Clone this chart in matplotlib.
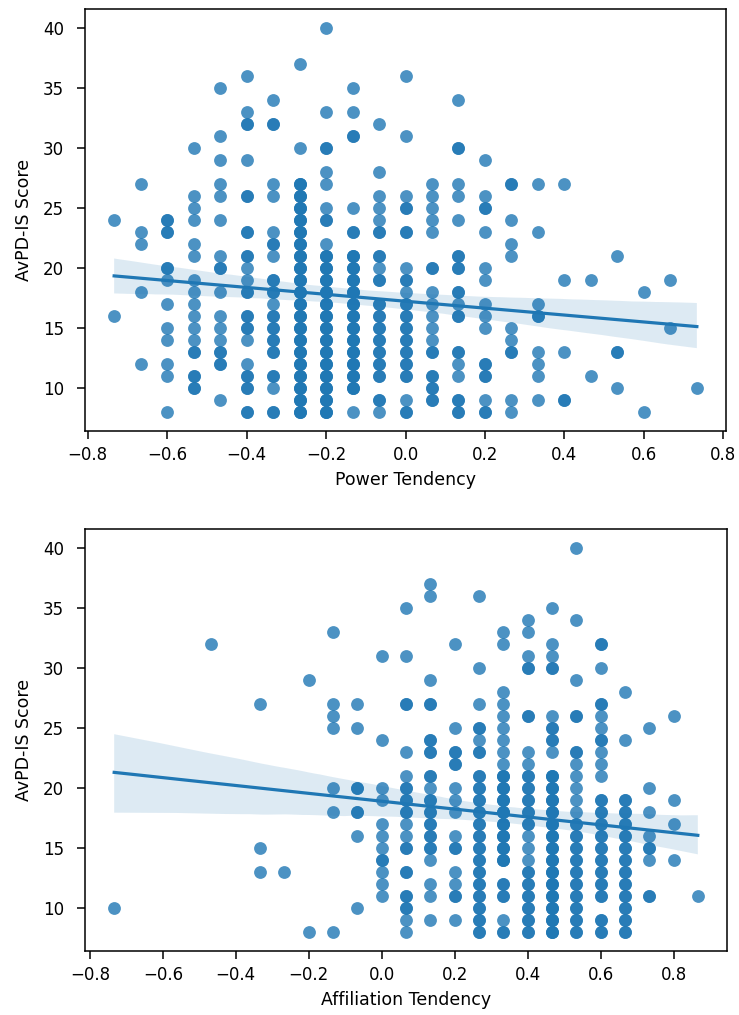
import numpy as np
import matplotlib
matplotlib.use("Agg")
import matplotlib.pyplot as plt
import seaborn as sns

# Power tendency: column levels (x = level/15) and AvPD-IS scores in each column
power_levels = [-11, -10, -9, -8, -7, -6, -5, -4, -3, -2, -1, 0, 1, 2, 3, 4, 5, 6, 7, 8, 9, 10, 11]
power_scores = [
    [24, 16],
    [27, 23, 22, 18, 12],
    [24, 24, 23, 23, 20, 20, 19, 17, 15, 14, 12, 11, 8],
    [30, 26, 25, 24, 22, 21, 19, 18, 17, 16, 15, 14, 13, 13, 11, 11, 10, 10],
    [35, 31, 29, 27, 26, 24, 21, 20, 20, 18, 16, 15, 14, 13, 13, 12, 12, 9],
    [36, 33, 32, 32, 29, 26, 26, 23, 23, 21, 21, 20, 19, 18, 18, 16, 16, 15, 15, 14, 12, 11, 11, 10, 10, 8, 8],
    [34, 32, 32, 27, 26, 23, 22, 22, 21, 19, 19, 18, 18, 17, 16, 16, 15, 15, 14, 14, 13, 13, 11, 11, 10, 8, 8],
    [37, 30, 27, 27, 27, 26, 26, 26, 25, 25, 25, 24, 24, 24, 23, 23, 23, 22, 22, 22, 21, 21, 21, 20, 20, 20,
     19, 19, 19, 18, 18, 18, 17, 17, 17, 16, 16, 16, 15, 15, 15, 14, 14, 14, 13, 13, 13, 12, 12, 12,
     11, 11, 11, 10, 10, 10, 9, 9, 9, 8, 8, 8],
    [40, 33, 30, 30, 28, 27, 25, 24, 24, 22, 21, 21, 21, 20, 20, 20, 19, 19, 19, 18, 18, 18, 17, 17, 17,
     16, 16, 16, 15, 15, 15, 14, 14, 14, 13, 13, 13, 12, 12, 12, 11, 11, 11, 10, 10, 10, 9, 9, 9, 8, 8, 8],
    [35, 33, 31, 31, 25, 23, 23, 21, 21, 21, 20, 20, 20, 19, 19, 19, 18, 18, 18, 17, 17, 17, 16, 16, 16,
     15, 15, 15, 14, 14, 14, 13, 13, 13, 12, 12, 12, 11, 11, 11, 10, 10, 10, 8],
    [32, 28, 26, 25, 24, 23, 23, 21, 21, 20, 19, 19, 17, 17, 16, 16, 15, 15, 14, 14, 13, 13, 12, 12, 11, 11, 9, 9, 8],
    [36, 31, 26, 25, 25, 23, 23, 20, 19, 19, 18, 17, 17, 16, 16, 15, 15, 14, 14, 13, 13, 12, 12, 11, 11, 9, 8, 8],
    [27, 26, 25, 24, 23, 20, 20, 18, 17, 16, 15, 14, 13, 13, 11, 11, 10, 10, 9, 9],
    [34, 30, 30, 27, 26, 24, 21, 21, 20, 20, 18, 18, 17, 16, 16, 13, 13, 12, 11, 9, 9, 8, 8],
    [29, 26, 25, 25, 23, 20, 19, 17, 16, 15, 12, 12, 11, 11, 9, 8, 8],
    [27, 27, 24, 22, 21, 15, 14, 13, 13, 9, 8],
    [27, 23, 17, 16, 16, 13, 12, 11, 9],
    [27, 19, 13, 9, 9],
    [19, 11],
    [21, 13, 13, 10],
    [18, 8],
    [19, 15],
    [10],
]

# Affiliation tendency: column levels (x = level/15) and AvPD-IS scores in each column
affil_levels = [-11, -7, -5, -4, -3, -2, -1, 0, 1, 2, 3, 4, 5, 6, 7, 8, 9, 10, 11, 12, 13]
affil_scores = [
    [10],
    [32],
    [27, 15, 13],
    [13],
    [29, 8],
    [33, 27, 26, 25, 20, 18, 8],
    [27, 25, 20, 20, 18, 18, 16, 10],
    [31, 24, 20, 19, 17, 16, 15, 14, 14, 13, 12, 11],
    [35, 31, 27, 27, 23, 21, 20, 20, 19, 19, 18, 18, 17, 16, 15, 15, 13, 13, 11, 11, 10, 10, 9, 8],
    [37, 36, 29, 27, 27, 24, 24, 23, 23, 21, 21, 20, 19, 19, 18, 18, 17, 17, 16, 16, 15, 15, 14, 12, 11, 9],
    [32, 25, 23, 23, 22, 22, 20, 19, 18, 16, 15, 15, 13, 12, 11, 11, 9],
    [36, 30, 27, 25, 25, 24, 23, 23, 21, 21, 20, 20, 19, 19, 18, 18, 17, 17, 16, 16, 15, 15, 14, 14,
     13, 13, 12, 12, 11, 11, 10, 10, 9, 9, 8, 8],
    [33, 32, 28, 27, 26, 25, 24, 23, 22, 21, 21, 21, 20, 20, 20, 19, 19, 19, 18, 18, 18, 17, 17, 17,
     16, 16, 16, 15, 15, 15, 14, 14, 14, 12, 12, 11, 11, 9, 8, 8],
    [34, 33, 31, 30, 30, 26, 26, 23, 22, 21, 21, 20, 20, 19, 19, 18, 18, 17, 17, 16, 15, 14,
     13, 13, 12, 12, 11, 11, 10, 10, 9, 9, 8, 8],
    [35, 32, 31, 30, 30, 26, 25, 25, 24, 24, 23, 21, 21, 21, 20, 20, 20, 19, 19, 19, 18, 18, 18,
     17, 17, 17, 16, 16, 16, 15, 15, 15, 14, 14, 14, 13, 13, 13, 12, 12, 12, 11, 11, 11, 10, 10, 10,
     9, 9, 9, 8, 8, 8],
    [40, 34, 29, 26, 26, 23, 23, 22, 21, 20, 19, 18, 17, 17, 16, 16, 15, 15, 14, 14, 13, 13, 12, 12,
     11, 11, 10, 10, 9, 9, 8, 8],
    [32, 32, 30, 27, 27, 26, 25, 24, 24, 23, 22, 21, 19, 19, 18, 18, 17, 17, 16, 16, 15, 15, 14, 14,
     13, 13, 12, 12, 11, 11, 9, 9, 8, 8],
    [28, 24, 19, 19, 18, 18, 17, 17, 16, 16, 15, 15, 14, 14, 13, 13, 12, 12, 11, 11, 10, 10, 9, 9, 8, 8],
    [25, 20, 18, 16, 15, 15, 14, 11, 11],
    [26, 19, 17, 14],
    [11],
]

x_labels = ["Power Tendency", "Affiliation Tendency"]
y_label = "AvPD-IS Score"


def expand(levels, scores):
    xs, ys = [], []
    for lv, col in zip(levels, scores):
        for s in col:
            xs.append(lv / 15.0)
            ys.append(s)
    return np.array(xs), np.array(ys, dtype=float)


plt.rcParams['font.family'] = ['DejaVu Sans']
fig = plt.figure(figsize=(7.39, 10.15), dpi=100)
W, H = 739, 1015
ax1 = fig.add_axes([85 / W, (H - 431) / H, 641 / W, 422 / H])
ax2 = fig.add_axes([85 / W, (H - 951) / H, 642 / W, 422 / H])

datasets = [expand(power_levels, power_scores), expand(affil_levels, affil_scores)]
for ax, (xs, ys), xl in zip([ax1, ax2], datasets, x_labels):
    sns.regplot(x=xs, y=ys, ax=ax, color="#1f77b4", seed=0,
                scatter_kws={"s": 85, "linewidths": 0}, line_kws={"lw": 2.3})
    ax.set_xlabel(xl, fontsize=12.5, labelpad=5)
    ax.set_ylabel(y_label, fontsize=12.5, labelpad=7.5)
    ax.set_xticks([-0.8, -0.6, -0.4, -0.2, 0.0, 0.2, 0.4, 0.6, 0.8])
    ax.set_yticks([10, 15, 20, 25, 30, 35, 40])
    ax.tick_params(labelsize=12, length=6, width=1.1)
    ax.tick_params(axis="y", pad=9)
    ax.tick_params(axis="x", pad=5)
    for sp in ax.spines.values():
        sp.set_linewidth(1.1)

fig.savefig("out.png", dpi=100)
